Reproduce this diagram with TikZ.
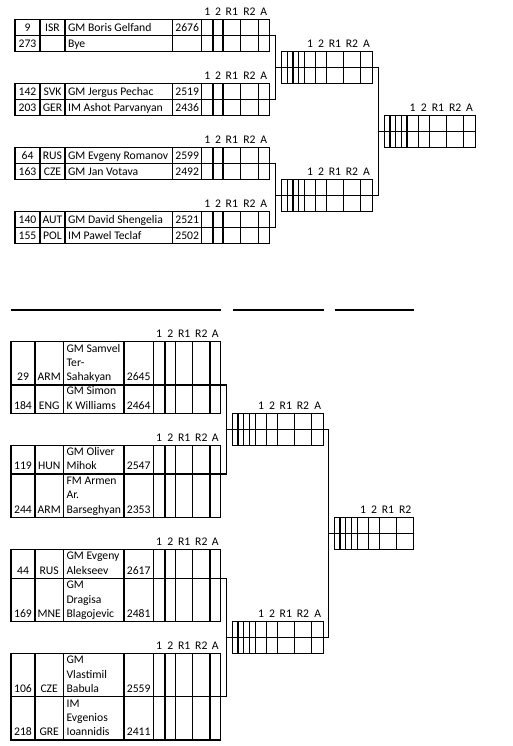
\documentclass[tikz,border=0pt]{standalone}
\usepackage{fontspec}
\setmainfont{Carlito}
\tikzset{
  gridline/.style={line width=0.9pt,line cap=rect},
  txt/.style={inner sep=0pt,anchor=base,font=\fontsize{8.75}{10.8}\selectfont},
  nm/.style={txt,anchor=base west},
  hd/.style={txt},
}
% grid: #1 inner column list, #2 left x, #3 right x, #4 top, #5 mid, #6 bottom
\newcommand\mkgrid[6]{%
  \draw[gridline] (#2,#4) rectangle (#3,#6);
  \draw[gridline] (#2,#5) -- (#3,#5);
  \foreach \cx in {#1} {\draw[gridline] (\cx,#4) -- (\cx,#6);}
}
% header: #1 name prefix, #2 baseline, #3..#8 column boundaries
\newcommand\mkhdr[8]{%
  \node[hd] (#1a) at ({(#3+#4)/2},#2) {1};
  \node[hd] (#1b) at ({(#4+#5)/2},#2) {2};
  \node[hd] (#1c) at ({(#5+#6)/2},#2) {R1};
  \node[hd] (#1d) at ({(#6+#7)/2},#2) {R2};
  \node[hd] (#1e) at ({(#7+#8)/2},#2) {A};
}
% top first-round table: #1 prefix, #2 top
\newcommand\toptab[2]{%
  \mkgrid{40,65,172.7,201.7,213,223,240.7,258.3}{15}{269.3}{#2}{#2+16}{#2+32}
  \mkhdr{#1h}{#2-4.2}{201.7}{213}{223}{240.7}{258.3}{269.3}
}
% top row: #1 prefix, #2 baseline, #3 seed, #4 country, #5 name, #6 rating
\newcommand\toprow[6]{%
  \node[txt] (#1s) at (27.5,#2) {#3};
  \node[txt] (#1c) at (52.5,#2) {#4};
  \node[nm]  (#1n) at (67.8,#2) {#5};
  \node[txt] (#1r) at (187.2,#2) {#6};
}
% bottom first-round table grid: #1 prefix, #2 top, #3 mid, #4 bottom
\newcommand\bottab[4]{%
  \mkgrid{35,63.3,124,153.3,165,175.7,192.7,210}{11}{220.7}{#2}{#3}{#4}
  \mkhdr{#1h}{#2-4.2}{153.3}{165}{175.7}{192.7}{210}{220.7}
}
% bottom row: #1 prefix, #2 bottom, #3 seed, #4 country, #5 rating, #6 nlines, #7 lines
\newcommand\botrow[7]{%
  \node[txt] (#1s) at (23,{#2-4.2}) {#3};
  \node[txt] (#1c) at (49.2,{#2-4.2}) {#4};
  \node[txt] (#1r) at (138.7,{#2-4.2}) {#5};
  \foreach \ln [count=\k] in {#7} {\node[nm] (#1n\k) at (66.3,{#2-4.2-(#6-\k)*14.4}) {\ln};}
}
\begin{document}
\begin{tikzpicture}[x=0.75pt,y=-0.75pt]
\useasboundingbox (0,0) rectangle (512,746);

%================ TOP SECTION ================
% first round
\toptab{ta}{19.5}
\node[txt] (tas1) at (27.5,31.3) {9};
\node[txt] (tac1) at (52.5,31.3) {ISR};
\node[nm]  (tan1) at (67.8,31.3) {GM Boris Gelfand};
\node[txt] (tar1) at (187.2,31.3) {2676};
\node[txt] (tas2) at (27.5,47.3) {273};
\node[nm]  (tan2) at (67.8,47.3) {Bye};

\toptab{tb}{83.5}
\toprow{tb1}{95.3}{142}{SVK}{GM Jergus Pechac}{2519}
\toprow{tb2}{111.3}{203}{GER}{IM Ashot Parvanyan}{2436}

\toptab{tc}{147.5}
\toprow{tc1}{159.3}{64}{RUS}{GM Evgeny Romanov}{2599}
\toprow{tc2}{175.3}{163}{CZE}{GM Jan Votava}{2492}

\toptab{td}{211.5}
\toprow{td1}{223.3}{140}{AUT}{GM David Shengelia}{2521}
\toprow{td2}{239.3}{155}{POL}{IM Pawel Teclaf}{2502}

% second round
\mkgrid{287.3,293,298.7,304.3,315.7,326.7,343.3,360.7}{281.7}{372.3}{51.5}{67.5}{83.5}
\mkhdr{tea}{47.3}{304.3}{315.7}{326.7}{343.3}{360.7}{372.3}
\mkgrid{287.3,293,298.7,304.3,315.7,326.7,343.3,360.7}{281.7}{372.3}{179.5}{195.5}{211.5}
\mkhdr{teb}{175.3}{304.3}{315.7}{326.7}{343.3}{360.7}{372.3}

% final
\mkgrid{390,395.7,401.3,407,418.3,429.3,446.7,463.7}{384.3}{475.3}{115.5}{131.5}{147.5}
\mkhdr{tf}{111.3}{407}{418.3}{429.3}{446.7}{463.7}{475.3}

% connectors
\coordinate (ta-out) at (269.3,35.5);
\coordinate (tb-out) at (269.3,99.5);
\coordinate (tc-out) at (269.3,163.5);
\coordinate (td-out) at (269.3,227.5);
\coordinate (te1-in) at (281.7,67.5);
\coordinate (te2-in) at (281.7,195.5);
\coordinate (te1-out) at (372.3,67.5);
\coordinate (te2-out) at (372.3,195.5);
\coordinate (tf-in) at (384.3,131.5);
\coordinate (tj1) at (275.3,0);
\coordinate (tj2) at (378.5,0);
\draw[gridline] (ta-out) -- (ta-out -| tj1) -- (tb-out -| tj1) -- (tb-out);
\draw[gridline] (te1-in -| tj1) -- (te1-in);
\draw[gridline] (tc-out) -- (tc-out -| tj1) -- (td-out -| tj1) -- (td-out);
\draw[gridline] (te2-in -| tj1) -- (te2-in);
\draw[gridline] (te1-out) -- (te1-out -| tj2) -- (te2-out -| tj2) -- (te2-out);
\draw[gridline] (tf-in -| tj2) -- (tf-in);

%================ SEPARATOR ================
\coordinate (s1a) at (11,310);   \coordinate (s1b) at (220.7,310);
\coordinate (s2a) at (233.3,310); \coordinate (s2b) at (324,310);
\coordinate (s3a) at (335,310);  \coordinate (s3b) at (414,310);
\draw[gridline,line cap=butt] (s1a) -- (s1b) (s2a) -- (s2b) (s3a) -- (s3b);

%================ BOTTOM SECTION ================
\bottab{ba}{341.7}{385}{413.3}
\botrow{ba1}{385}{29}{ARM}{2645}{3}{GM Samvel,Ter-,Sahakyan}
\botrow{ba2}{413.3}{184}{ENG}{2464}{2}{GM Simon,K Williams}

\bottab{bb}{445.3}{474}{517.3}
\botrow{bb1}{474}{119}{HUN}{2547}{2}{GM Oliver,Mihok}
\botrow{bb2}{517.3}{244}{ARM}{2353}{3}{FM Armen,Ar.,Barseghyan}

\bottab{bc}{549.3}{578.3}{621.7}
\botrow{bc1}{578.3}{44}{RUS}{2617}{2}{GM Evgeny,Alekseev}
\botrow{bc2}{621.7}{169}{MNE}{2481}{3}{GM,Dragisa,Blagojevic}

\bottab{bd}{653.7}{696.7}{740}
\botrow{bd1}{696.7}{106}{CZE}{2559}{3}{GM,Vlastimil,Babula}
\botrow{bd2}{740}{218}{GRE}{2411}{3}{IM,Evgenios,Ioannidis}

% second round
\mkgrid{238,243.7,249.5,255.3,266.7,277.3,294.3,311.7}{232.3}{323.7}{413.3}{429.3}{445.3}
\mkhdr{bea}{409.1}{255.3}{266.7}{277.3}{294.3}{311.7}{323.7}
\mkgrid{238,243.7,249.5,255.3,266.7,277.3,294.3,311.7}{232.3}{323.7}{621.7}{637.7}{653.7}
\mkhdr{beb}{617.5}{255.3}{266.7}{277.3}{294.3}{311.7}{323.7}

% final (no A column)
\mkgrid{340,345.7,351.5,357.3,368.7,379.3,396.7}{334.3}{413.7}{517.3}{533.3}{549.3}
\node[hd] (bfa) at ({(357.3+368.7)/2},513.1) {1};
\node[hd] (bfb) at ({(368.7+379.3)/2},513.1) {2};
\node[hd] (bfc) at ({(379.3+396.7)/2},513.1) {R1};
\node[hd] (bfd) at ({(396.7+413.7)/2},513.1) {R2};

% connectors
\coordinate (ba-out) at (220.7,385);
\coordinate (bb-out) at (220.7,474);
\coordinate (bc-out) at (220.7,578.3);
\coordinate (bd-out) at (220.7,696.7);
\coordinate (be1-in) at (232.3,429.3);
\coordinate (be2-in) at (232.3,637.7);
\coordinate (be1-out) at (323.7,429.3);
\coordinate (be2-out) at (323.7,637.7);
\coordinate (bf-in) at (334.3,533.3);
\coordinate (bj1) at (226.3,0);
\coordinate (bj2) at (328.3,0);
\draw[gridline] (ba-out) -- (ba-out -| bj1) -- (bb-out -| bj1) -- (bb-out);
\draw[gridline] (be1-in -| bj1) -- (be1-in);
\draw[gridline] (bc-out) -- (bc-out -| bj1) -- (bd-out -| bj1) -- (bd-out);
\draw[gridline] (be2-in -| bj1) -- (be2-in);
\draw[gridline] (be1-out) -- (be1-out -| bj2) -- (be2-out -| bj2) -- (be2-out);
\draw[gridline] (bf-in -| bj2) -- (bf-in);
\end{tikzpicture}
\end{document}
